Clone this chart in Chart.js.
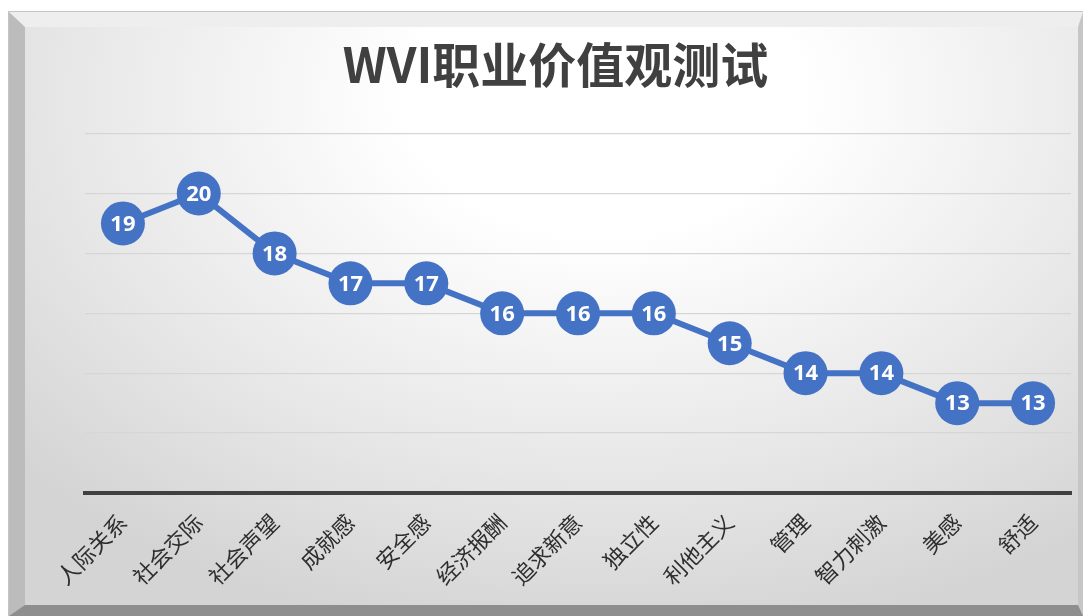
<!DOCTYPE html>
<html lang="zh">
<head>
<meta charset="UTF-8">
<title>WVI职业价值观测试</title>
<script src="https://cdn.jsdelivr.net/npm/chart.js"></script>
<style>
  html, body {
    margin: 0;
    padding: 0;
    width: 1083px;
    height: 616px;
    overflow: hidden;
    background: #ffffff;
  }
  .frame {
    position: absolute;
    left: 9px;
    top: 12px;
    width: 1074px;
    height: 604px;
    box-sizing: border-box;
    border-left: 16px solid #bcbcbc;
    border-top: 15px solid #eeeeee;
    border-right: 5px solid #c6c6c6;
    border-bottom: 11px solid #8e8e8e;
    outline: 1px solid #c4c4c4;
    background: radial-gradient(ellipse 75% 95% at 55% 12%, #ffffff 25%, #e6e6e6 70%, #d4d4d4 100%);
  }
  #chart-wrap {
    position: absolute;
    left: 0;
    top: 0;
    width: 1083px;
    height: 616px;
  }
</style>
</head>
<body>
<div class="frame"></div>
<div id="chart-wrap"><canvas id="wviChart"></canvas></div>
<script>
// Chart data
const categories = ['人际关系', '社会交际', '社会声望', '成就感', '安全感', '经济报酬', '追求新意',
  '独立性', '利他主义', '管理', '智力刺激', '美感', '舒适'];
const scores = [19, 20, 18, 17, 17, 16, 16, 16, 15, 14, 14, 13, 13];
const yRange = [10, 22];
const yStep = 2;

// Draws the value inside each marker
const pointLabels = {
  id: 'pointLabels',
  afterDatasetsDraw(chart) {
    const ctx = chart.ctx;
    const meta = chart.getDatasetMeta(0);
    ctx.save();
    ctx.fillStyle = '#ffffff';
    ctx.font = 'bold 22px "Open Sans", "Liberation Sans", sans-serif';
    ctx.textAlign = 'center';
    ctx.textBaseline = 'middle';
    meta.data.forEach((pt, i) => {
      ctx.fillText(String(scores[i]), pt.x, pt.y + 1);
    });
    ctx.restore();
  }
};

const ctx = document.getElementById('wviChart').getContext('2d');
new Chart(ctx, {
  type: 'line',
  data: {
    labels: categories,
    datasets: [{
      data: scores,
      borderColor: '#4472C4',
      backgroundColor: '#4472C4',
      borderWidth: 6,
      pointRadius: 22,
      pointHoverRadius: 22,
      pointBorderWidth: 0,
      pointBackgroundColor: '#4472C4',
      tension: 0,
      fill: false,
      clip: false
    }]
  },
  options: {
    responsive: true,
    maintainAspectRatio: false,
    animation: false,
    layout: {
      autoPadding: false,
      padding: { top: 36, left: 40, right: 12, bottom: 0 }
    },
    scales: {
      x: {
        offset: true,
        grid: { display: false },
        border: { display: true, color: '#404040', width: 4 },
        ticks: {
          autoSkip: false,
          minRotation: 45,
          maxRotation: 45,
          padding: 8,
          color: '#2e2e2e',
          font: { family: '"Noto Sans CJK SC", sans-serif', size: 22 }
        },
        afterFit(scale) {
          scale.height = 123;
          scale.paddingLeft = 0;
          scale.paddingRight = 0;
        }
      },
      y: {
        min: yRange[0],
        max: yRange[1],
        ticks: { stepSize: yStep, display: false },
        border: { display: false },
        grid: { color: '#d6d6d6', lineWidth: 1.3, drawTicks: false },
        afterFit(scale) { scale.width = 45; }
      }
    },
    plugins: {
      legend: { display: false },
      tooltip: { enabled: false },
      title: {
        display: true,
        text: 'WVI职业价值观测试',
        color: '#404040',
        font: { family: '"Noto Sans CJK SC", sans-serif', size: 48, weight: 'bold' },
        padding: { top: 0, bottom: 40 }
      }
    }
  },
  plugins: [pointLabels]
});
</script>
</body>
</html>
